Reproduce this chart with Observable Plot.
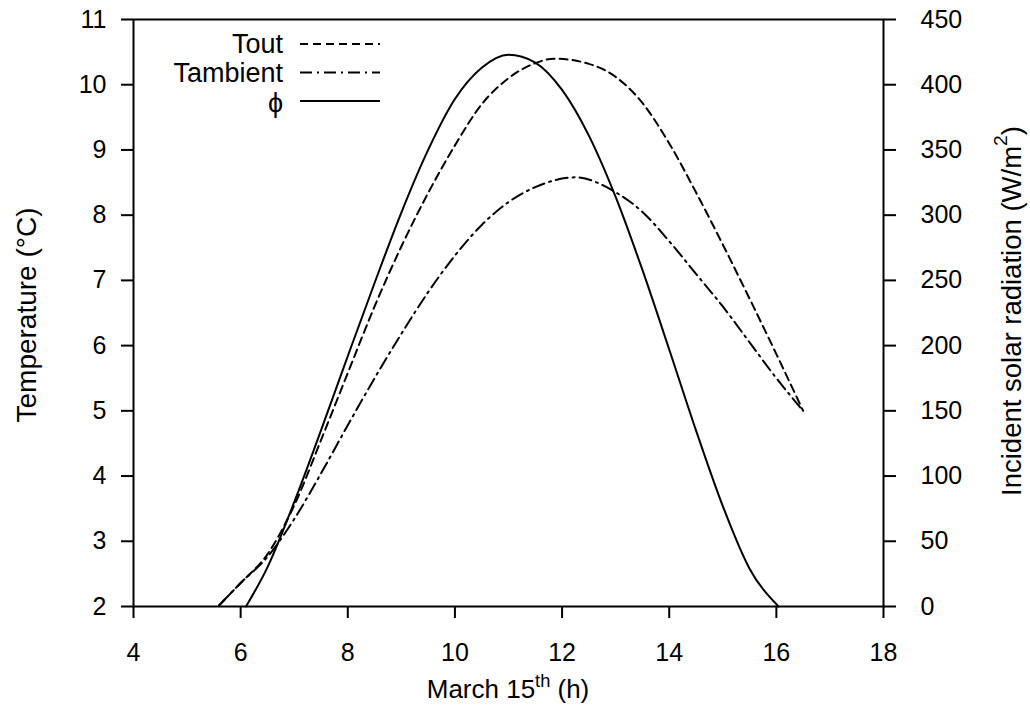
<!DOCTYPE html>
<html>
<head>
<meta charset="utf-8">
<script src="https://cdn.jsdelivr.net/npm/d3@7"></script>
<script src="https://cdn.jsdelivr.net/npm/@observablehq/plot@0.6"></script>
<style>
  html, body { margin: 0; padding: 0; background: #fff; }
  #chart { width: 1030px; height: 709px; }
</style>
</head>
<body>
<div id="chart"></div>
<script>
// ---- data ----
const xTicks = [4, 6, 8, 10, 12, 14, 16, 18];
const tempTicks = [2, 3, 4, 5, 6, 7, 8, 9, 10, 11];
const radTicks = [0, 50, 100, 150, 200, 250, 300, 350, 400, 450];

const toutHours = [5.6, 6.0, 6.5, 7.0, 7.5, 8.0, 8.5, 9.0, 9.5, 10.0, 10.5, 11.0, 11.5, 11.85, 12.5, 13.0, 13.5, 14.0, 14.5, 15.0, 15.5, 16.0, 16.5];
const toutValues = [2.02, 2.36, 2.8, 3.55, 4.55, 5.58, 6.6, 7.52, 8.34, 9.07, 9.7, 10.1, 10.33, 10.40, 10.32, 10.12, 9.72, 9.1, 8.35, 7.55, 6.72, 5.87, 5.0];

const tambHours = [5.6, 6.0, 6.5, 7.0, 7.5, 8.0, 8.5, 9.0, 9.5, 10.0, 10.5, 11.0, 11.5, 12.25, 13.0, 13.5, 14.0, 14.5, 15.0, 15.5, 16.0, 16.5];
const tambValues = [2.02, 2.36, 2.76, 3.34, 4.04, 4.78, 5.5, 6.18, 6.82, 7.38, 7.85, 8.2, 8.43, 8.58, 8.35, 8.05, 7.6, 7.1, 6.6, 6.05, 5.5, 5.0];

const phiHours = [6.1, 6.5, 7.0, 7.5, 8.0, 8.5, 9.0, 9.5, 10.0, 10.5, 11.0, 11.5, 12.0, 12.5, 13.0, 13.5, 14.0, 14.5, 15.0, 15.5, 16.04];
const phiValues = [0, 30, 80, 135, 192, 248, 302, 350, 389, 413, 423, 417, 396, 361, 314, 258, 197, 135, 77, 29, 0];

const legendLabels = ["Tout", "Tambient", "\u03d5"];

// ---- tables ----
const tout = toutHours.map((h, i) => ({h, v: toutValues[i]}));
const tamb = tambHours.map((h, i) => ({h, v: tambValues[i]}));
const phi = phiHours.map((h, i) => ({h, w: phiValues[i]}));

// right axis: 0..450 W/m2 mapped onto 2..11 °C
const radToTemp = w => 2 + w * (9 / 450);
const tempToRad = t => Math.round((t - 2) * 450 / 9);

const FONT = "'Liberation Sans', Arial, Helvetica, sans-serif";
const FS = 25;
const dashT = "8,5";
const dashA = "12,5,2,5";

const chart = Plot.plot({
  width: 1030,
  height: 709,
  marginLeft: 133,
  marginRight: 147,
  marginTop: 19,
  marginBottom: 103,
  style: {fontFamily: FONT, fontSize: FS + "px", color: "#000", background: "#fff", overflow: "visible"},
  x: {domain: [4, 18]},
  y: {domain: [2, 11]},
  marks: [
    Plot.frame({stroke: "#000", strokeWidth: 2}),
    Plot.axisX({ticks: xTicks, tickSize: 12, tickPadding: 25, strokeWidth: 2, label: null}),
    Plot.axisY({anchor: "left", ticks: tempTicks, tickSize: 12, tickPadding: 15, strokeWidth: 2, label: null}),
    Plot.axisY({anchor: "right", ticks: radTicks.map(radToTemp), tickFormat: tempToRad, tickSize: 12, tickPadding: 25, strokeWidth: 2, label: null}),
    Plot.line(tout, {x: "h", y: "v", stroke: "#000", strokeWidth: 2, strokeDasharray: dashT, curve: "monotone-x"}),
    Plot.line(tamb, {x: "h", y: "v", stroke: "#000", strokeWidth: 2, strokeDasharray: dashA, curve: "monotone-x"}),
    Plot.line(phi, {x: "h", y: d => radToTemp(d.w), stroke: "#000", strokeWidth: 2, curve: "monotone-x"})
  ]
});

const svg = d3.select(chart);

// axis titles
svg.append("text")
  .attr("transform", "translate(26,315) rotate(-90)")
  .attr("text-anchor", "middle").attr("dominant-baseline", "central")
  .attr("font-family", FONT).attr("font-size", 28).attr("fill", "#000")
  .text("Temperature (\u00b0C)");

const RFS = 27.5;
const rt = svg.append("text")
  .attr("transform", "translate(1011,311) rotate(-90)")
  .attr("text-anchor", "middle").attr("dominant-baseline", "central")
  .attr("font-family", FONT).attr("font-size", RFS).attr("fill", "#000");
rt.append("tspan").text("Incident solar radiation (W/m");
rt.append("tspan").attr("dy", -11).attr("font-size", RFS * 0.7).text("2");
rt.append("tspan").attr("dy", 11).text(")");

const XFS = 26;
const xt = svg.append("text")
  .attr("x", 508).attr("y", 698)
  .attr("text-anchor", "middle")
  .attr("font-family", FONT).attr("font-size", XFS).attr("fill", "#000");
xt.append("tspan").text("March 15");
xt.append("tspan").attr("dy", -11).attr("font-size", XFS * 0.7).text("th");
xt.append("tspan").attr("dy", 11).text(" (h)");

// legend
const lg = svg.append("g").attr("font-family", FONT).attr("font-size", 27).attr("fill", "#000");
const dashes = [dashT, dashA, null];
legendLabels.forEach((lab, i) => {
  const y = 44 + i * 28.5;
  lg.append("text").attr("x", 283).attr("y", y + (i === 2 ? 2 : 0)).attr("text-anchor", "end")
    .attr("dominant-baseline", "central").text(lab);
  const ln = lg.append("line").attr("x1", 300).attr("x2", 380).attr("y1", y).attr("y2", y)
    .attr("stroke", "#000").attr("stroke-width", 2);
  if (dashes[i]) ln.attr("stroke-dasharray", dashes[i]);
});

document.getElementById("chart").appendChild(chart);
</script>
</body>
</html>
